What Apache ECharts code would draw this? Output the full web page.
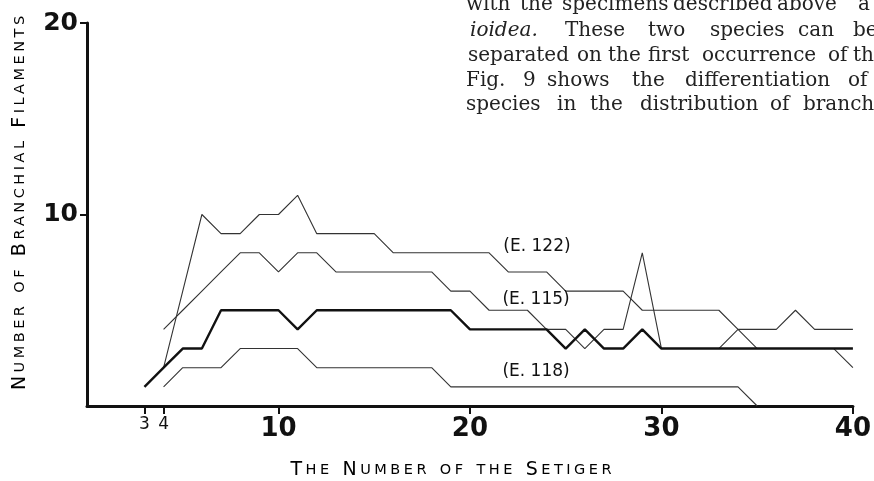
<!DOCTYPE html>
<html>
<head>
<meta charset="utf-8">
<script src="https://cdn.jsdelivr.net/npm/echarts@6/dist/echarts.min.js"></script>
<style>
  html, body { margin: 0; padding: 0; background: #fff; }
  #chart { width: 874px; height: 481px; }
</style>
</head>
<body>
<div id="chart"></div>
<script>
// setiger number where each specimen's record starts
const startE122 = 4
const startE115 = 4
const startThick = 3
const startE118 = 4

// number of branchial filaments per setiger
const e122 = [2, 6, 10, 9, 9, 10, 10, 11, 9, 9, 9, 9, 8, 8, 8, 8, 8, 8, 7, 7, 7, 6, 6, 6, 6, 5, 5, 5, 5, 5, 4, 4, 4, 5, 4, 4, 4]
const e115 = [4, 5, 6, 7, 8, 8, 7, 8, 8, 7, 7, 7, 7, 7, 7, 6, 6, 5, 5, 5, 4, 4, 3, 4, 4, 8, 3, 3, 3, 3, 4, 3, 3, 3, 3, 3, 2]
const thick = [1, 2, 3, 3, 5, 5, 5, 5, 4, 5, 5, 5, 5, 5, 5, 5, 5, 4, 4, 4, 4, 4, 3, 4, 3, 3, 4, 3, 3, 3, 3, 3, 3, 3, 3, 3, 3, 3]
const e118 = [1, 2, 2, 2, 3, 3, 3, 3, 2, 2, 2, 2, 2, 2, 2, 1, 1, 1, 1, 1, 1, 1, 1, 1, 1, 1, 1, 1, 1, 1, 1, 0]

const xTicks = [3, 4, 10, 20, 30, 40]
const yTicks = [10, 20]

const pairs = (start, vals) => vals.map((v, i) => [start + i, v])

// small caps: capitals stay big, lower case letters become small capitals
const smallCaps = (text) =>
  text.split(' ').map(w =>
    w.split('').map(c => (c === c.toUpperCase() ? '{b|' + c : '{s|' + c.toUpperCase()) + '}').join('{g| }')
  ).join('{w| }')

const capsRich = {
  b: { fontFamily: 'DejaVu Sans', fontSize: 19, color: '#111' },
  s: { fontFamily: 'DejaVu Sans', fontSize: 14.5, color: '#111' },
  g: { fontFamily: 'DejaVu Sans', fontSize: 11 },
  w: { fontFamily: 'DejaVu Sans', fontSize: 42 }
}

// page text that shows beside the figure
const pageLines = [
  { y: 12, words: [['with', 466], ['the', 520], ['specimens', 562], ['described', 673], ['above', 777], ['a', 858]] },
  { y: 38, words: [['ioidea.', 470, true], ['These', 565], ['two', 648], ['species', 710], ['can', 798], ['be', 853]] },
  { y: 63, words: [['separated', 468], ['on', 577], ['the', 608], ['first', 648], ['occurrence', 702], ['of', 828], ['the', 853]] },
  { y: 88, words: [['Fig.', 466], ['9', 523], ['shows', 547], ['the', 632], ['differentiation', 685], ['of', 848]] },
  { y: 112, words: [['species', 466], ['in', 557], ['the', 590], ['distribution', 640], ['of', 770], ['branchial', 803]] }
]

const pageText = []
pageLines.forEach(line => {
  line.words.forEach(([w, x, it]) => {
    pageText.push({
      type: 'text', left: x, top: line.y - 17, silent: true,
      style: {
        text: w, fill: '#222', fontFamily: 'DejaVu Serif', fontSize: 20,
        fontStyle: it ? 'italic' : 'normal'
      }
    })
  })
})

const lineLabel = (text, x, y) => ({
  symbol: 'circle', symbolSize: 0, silent: true, animation: false,
  data: [{ coord: [x, y] }],
  label: {
    show: true, position: 'inside', formatter: text,
    fontFamily: 'DejaVu Sans', fontSize: 17, color: '#111'
  }
})

const option = {
  animation: false,
  backgroundColor: '#fff',
  grid: { left: 87, right: 21, top: 23, bottom: 75 },
  xAxis: {
    type: 'value', min: 0, max: 40,
    axisLine: { lineStyle: { color: '#111', width: 3 } },
    axisTick: { customValues: xTicks, length: 8, lineStyle: { color: '#111', width: 2 } },
    axisLabel: {
      customValues: xTicks, margin: 10, verticalAlign: 'top',
      formatter: v => (v < 10 ? '{s|' + v + '}' : '{b|' + v + '}'),
      rich: {
        s: { fontFamily: 'DejaVu Sans', fontSize: 17, color: '#111' },
        b: { fontFamily: 'DejaVu Sans', fontSize: 26, fontWeight: 'bold', color: '#111' }
      }
    },
    splitLine: { show: false }
  },
  yAxis: {
    type: 'value', min: 0, max: 20,
    axisLine: { show: true, lineStyle: { color: '#111', width: 3 } },
    axisTick: { show: true, customValues: yTicks, length: 7, lineStyle: { color: '#111', width: 2 } },
    axisLabel: {
      customValues: yTicks, margin: 9,
      fontFamily: 'DejaVu Sans', fontSize: 25, fontWeight: 'bold', color: '#111'
    },
    splitLine: { show: false }
  },
  graphic: [
    {
      type: 'text', x: 451, y: 470, silent: true,
      style: {
        text: smallCaps('The Number of the Setiger'), rich: capsRich,
        align: 'center', verticalAlign: 'middle'
      }
    },
    {
      type: 'text', x: 20, y: 203, rotation: Math.PI / 2, silent: true,
      style: {
        text: smallCaps('Number of Branchial Filaments'), rich: capsRich,
        align: 'center', verticalAlign: 'middle'
      }
    }
  ].concat(pageText),
  series: [
    {
      name: 'E. 122', type: 'line', symbol: 'none',
      data: pairs(startE122, e122),
      lineStyle: { color: '#333', width: 1.1 },
      markPoint: lineLabel('(E. 122)', 23.5, 8.35)
    },
    {
      name: 'E. 115', type: 'line', symbol: 'none',
      data: pairs(startE115, e115),
      lineStyle: { color: '#333', width: 1.1 },
      markPoint: lineLabel('(E. 115)', 23.45, 5.55)
    },
    {
      name: 'thick', type: 'line', symbol: 'none',
      data: pairs(startThick, thick),
      lineStyle: { color: '#111', width: 2.4 }
    },
    {
      name: 'E. 118', type: 'line', symbol: 'none',
      data: pairs(startE118, e118),
      lineStyle: { color: '#333', width: 1.1 },
      markPoint: lineLabel('(E. 118)', 23.45, 1.78)
    }
  ]
}

const chart = echarts.init(document.getElementById('chart'))
option && chart.setOption(option)
</script>
</body>
</html>
